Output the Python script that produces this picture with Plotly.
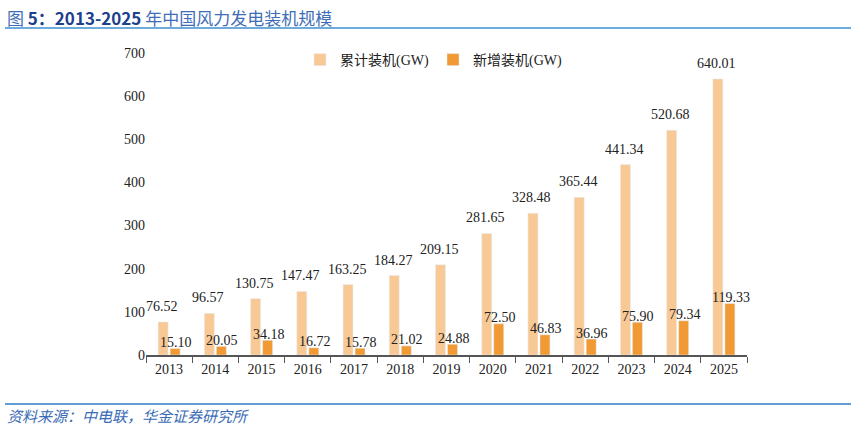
import plotly.graph_objects as go

years = ["2013","2014","2015","2016","2017","2018","2019","2020","2021","2022","2023","2024","2025"]
cumulative = [76.52,96.57,130.75,147.47,163.25,184.27,209.15,281.65,328.48,365.44,441.34,520.68,640.01]
added = [15.10,20.05,34.18,16.72,15.78,21.02,24.88,72.50,46.83,36.96,75.90,79.34,119.33]
yticks = [0,100,200,300,400,500,600,700]

LIGHT = "#F9C995"
ORANGE = "#F19A33"
SERIF = "Times New Roman, Liberation Serif, Noto Sans CJK SC, serif"

# plot area in pixels (for converting page positions to paper coordinates)
W, H = 856, 432
L, R, T, B = 146, 109, 53, 77
PW, PH = W - L - R, H - T - B

def px(xpix):
    return (xpix - L) / PW

def py(ypix):
    return (H - B - ypix) / PH

fig = go.Figure()
fig.add_trace(go.Bar(x=years, y=cumulative, name="累计装机(GW)", marker_color=LIGHT))
fig.add_trace(go.Bar(x=years, y=added, name="新增装机(GW)", marker_color=ORANGE))

for i, v in enumerate(cumulative):
    fig.add_annotation(x=i, y=v, xref="x", yref="y", text=f"{v:.2f}", showarrow=False,
                       xshift=-7, yanchor="bottom", yshift=6,
                       font=dict(family=SERIF, size=14, color="#222"))
for i, v in enumerate(added):
    fig.add_annotation(x=i, y=v, xref="x", yref="y", text=f"{v:.2f}", showarrow=False,
                       xshift=7, yanchor="middle", yshift=6,
                       font=dict(family=SERIF, size=14, color="#222"))

# title
fig.add_annotation(xref="paper", yref="paper", x=px(5), y=py(3), xanchor="left", yanchor="top",
                   text="<span style='color:#3F6DB8'>图 </span><b><span style='color:#1C3F8E'>5：2013-2025</span></b><span style='color:#3F6DB8'> 年中国风力发电装机规模</span>",
                   showarrow=False, font=dict(family="Noto Sans CJK SC, Arial, sans-serif", size=17))
# footer
fig.add_annotation(xref="paper", yref="paper", x=px(5), y=py(428), xanchor="left", yanchor="bottom",
                   text="<i>资料来源：中电联，华金证券研究所</i>", showarrow=False,
                   font=dict(family="Noto Sans CJK SC, sans-serif", size=15, color="#3A6BB5"))

fig.update_layout(
    width=W, height=H,
    margin=dict(l=L, r=R, t=T, b=B, autoexpand=False),
    paper_bgcolor="white", plot_bgcolor="white",
    barmode="group", bargap=0.48, bargroupgap=0.17,
    showlegend=True,
    legend=dict(orientation="h", x=px(300), y=py(60), xanchor="left", yanchor="middle",
                font=dict(family=SERIF, size=14, color="#222"),
                itemwidth=30, entrywidth=88, entrywidthmode="pixels",
                bgcolor="rgba(0,0,0,0)"),
    shapes=[
        dict(type="line", xref="paper", yref="paper", x0=px(5), x1=px(851), y0=py(28), y1=py(28),
             line=dict(color="#3E8FD2", width=1.5)),
        dict(type="line", xref="paper", yref="paper", x0=px(5), x1=px(851), y0=py(404), y1=py(404),
             line=dict(color="#2C7CC4", width=1.5)),
    ],
)
fig.update_xaxes(type="category", categoryorder="array", categoryarray=years,
                 range=[-0.5, len(years) - 0.5],
                 showline=True, linecolor="#555", linewidth=1.5,
                 ticks="outside", tickson="boundaries", ticklen=6, tickcolor="#555",
                 tickfont=dict(family=SERIF, size=14, color="#222"), showgrid=False)
fig.update_yaxes(range=[0, 700], tickvals=yticks, showline=False, showgrid=False,
                 zeroline=False, ticks="", tickfont=dict(family=SERIF, size=14, color="#222"))

fig.write_html("out.html")
